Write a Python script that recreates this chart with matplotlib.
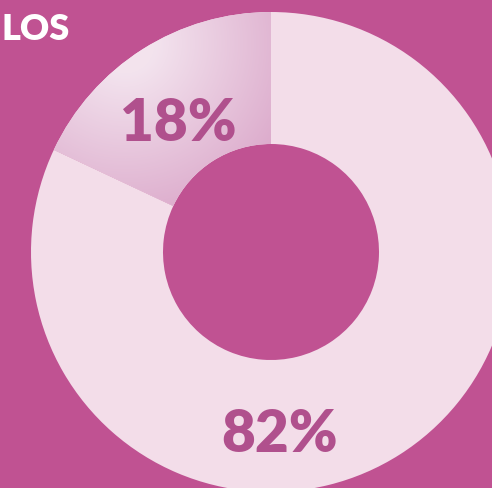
import numpy as np
import matplotlib.pyplot as plt
import matplotlib.colors as mcolors

# data
labels = ["18%", "82%"]
shares = [18, 82]
title_text = "LOS"

bg = "#c05292"
light = "#f3dde9"
text_col = "#b0508d"

W, H = 492, 489
fig = plt.figure(figsize=(W / 100, H / 100), dpi=100, facecolor=bg)
ax = fig.add_axes([0, 0, 1, 1])
ax.set_facecolor(bg)

cx, cy = 271, H - 253
wedges, _ = ax.pie(shares, startangle=90, counterclock=True,
                   colors=[light, light], radius=240, center=(cx, cy),
                   wedgeprops=dict(width=132, linewidth=0), frame=True)

# radial gradient on the small slice, lightest near the outer rim
fx, fy = 125, H - 45
yy, xx = np.mgrid[0:H, 0:W]
d = np.sqrt((xx - fx) ** 2 + (yy - fy) ** 2)
t = np.clip((d - 30) / 170.0, 0, 1)
c0 = np.array(mcolors.to_rgb("#f3e3ee"))
c1 = np.array(mcolors.to_rgb("#d9a3c7"))
img = c0[None, None, :] * (1 - t[..., None]) + c1[None, None, :] * t[..., None]
im = ax.imshow(img, extent=[0, W, 0, H], origin="lower", zorder=1.5)
im.set_clip_path(wedges[0])

ax.text(178, H - 124, labels[0], ha="center", va="center", color=text_col,
        fontsize=42, fontweight="heavy", family="Lato", zorder=3)
ax.text(280, H - 435, labels[1], ha="center", va="center", color=text_col,
        fontsize=42, fontweight="heavy", family="Lato", zorder=3)
ax.text(2, H - 30, title_text, ha="left", va="center", color="white",
        fontsize=26, fontweight="heavy", family="Lato", zorder=3)

ax.set_xlim(0, W)
ax.set_ylim(0, H)
ax.set_aspect("auto")
ax.axis("off")

fig.savefig("out.png", dpi=100, facecolor=bg)
